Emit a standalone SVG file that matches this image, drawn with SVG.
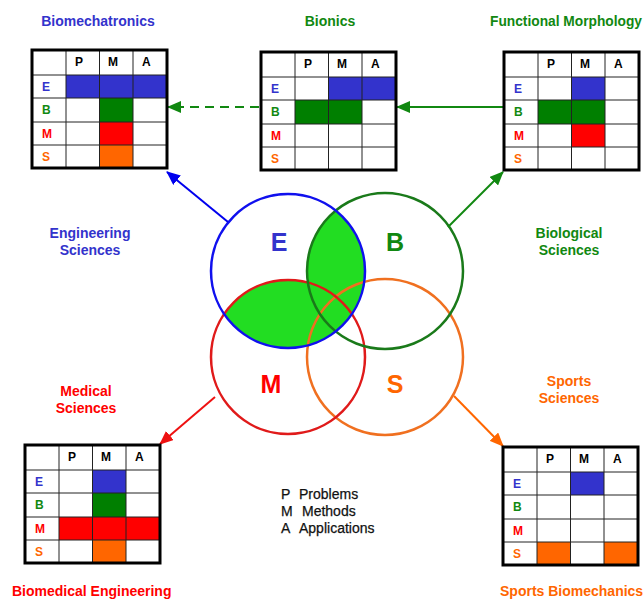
<svg xmlns="http://www.w3.org/2000/svg" width="644" height="599" viewBox="0 0 644 599">
<style>
  text { font-family: "Liberation Sans", Arial, sans-serif; font-weight: bold; }
  .title { font-size: 14px; }
  .side { font-size: 14px; text-anchor: middle; }
  .big { font-size: 25px; text-anchor: middle; }
  .legend { font-size: 14px; font-weight: normal; fill: #111; stroke: #111; stroke-width: 0.25; }
  .cell { font-size: 12px; }
  .hdr { fill: #000; }
  .blue { fill: #3333cc; }
  .green { fill: #118811; }
  .red { fill: #ff0000; }
  .orange { fill: #ff6600; }
  .fb { fill: #3333cc; }
  .fg { fill: #007f00; }
  .fr { fill: #ff0000; }
  .fo { fill: #ff6600; }
  .grid { stroke: #222; stroke-width: 1; fill: none; }
  .frame { stroke: #000; stroke-width: 3; fill: none; }
  .bg { fill: #fff; }
  .circ { fill: none; stroke-width: 2.5; }
  .conn { stroke-width: 2; fill: none; }
</style>
<defs>
  <marker id="ab" markerUnits="userSpaceOnUse" markerWidth="14" markerHeight="12" refX="13" refY="6" orient="auto"><path d="M0,0 L14,6 L0,12 z" fill="#0000ee"/></marker>
  <marker id="ag" markerUnits="userSpaceOnUse" markerWidth="14" markerHeight="12" refX="13" refY="6" orient="auto"><path d="M0,0 L14,6 L0,12 z" fill="#118811"/></marker>
  <marker id="ar" markerUnits="userSpaceOnUse" markerWidth="14" markerHeight="12" refX="13" refY="6" orient="auto"><path d="M0,0 L14,6 L0,12 z" fill="#ee1111"/></marker>
  <marker id="ao" markerUnits="userSpaceOnUse" markerWidth="14" markerHeight="12" refX="13" refY="6" orient="auto"><path d="M0,0 L14,6 L0,12 z" fill="#ff6600"/></marker>
  <clipPath id="clipE"><circle cx="288" cy="271" r="77"/></clipPath>
  <g id="gridlines">
    <rect class="bg" x="0" y="0" width="135" height="118"/>
  </g>
  <g id="gridover">
    <path class="grid" d="M34,0V118 M67.5,0V118 M101,0V118 M0,25H135 M0,48H135 M0,72H135 M0,95H135"/>
    <rect class="frame" x="0" y="0" width="135" height="118"/>
    <text class="cell hdr" x="43" y="16">P</text>
    <text class="cell hdr" x="76" y="16">M</text>
    <text class="cell hdr" x="110" y="16">A</text>
    <text class="cell blue" x="10" y="41">E</text>
    <text class="cell green" x="10" y="64">B</text>
    <text class="cell red" x="10" y="88">M</text>
    <text class="cell orange" x="10" y="111">S</text>
  </g>
</defs>

<!-- Titles -->
<text class="title blue" x="98" y="26" text-anchor="middle">Biomechatronics</text>
<text class="title green" x="330" y="26" text-anchor="middle">Bionics</text>
<text class="title green" x="490" y="26" textLength="152" lengthAdjust="spacingAndGlyphs">Functional Morphology</text>
<text class="title red" x="12" y="596">Biomedical Engineering</text>
<text class="title orange" x="500" y="596">Sports Biomechanics</text>

<!-- Side labels -->
<text class="side blue" x="90" y="238">Engineering</text>
<text class="side blue" x="90" y="255">Sciences</text>
<text class="side green" x="569" y="238">Biological</text>
<text class="side green" x="569" y="255">Sciences</text>
<text class="side red" x="86" y="396">Medical</text>
<text class="side red" x="86" y="413">Sciences</text>
<text class="side orange" x="569" y="386">Sports</text>
<text class="side orange" x="569" y="403">Sciences</text>

<!-- Venn diagram -->
<g id="venn">
  <g clip-path="url(#clipE)" fill="#22dd22">
    <circle cx="385" cy="271" r="78"/>
    <circle cx="288" cy="357" r="77"/>
  </g>
  <circle id="circleS" class="circ" cx="385" cy="357" r="78" stroke="#f07020"/>
  <circle id="circleM" class="circ" cx="288" cy="357" r="77" stroke="#e01a1a"/>
  <circle id="circleB" class="circ" cx="385" cy="271" r="78" stroke="#1a7a1a"/>
  <circle id="circleE" class="circ" cx="288" cy="271" r="77" stroke="#1010ee"/>
  <text class="big blue" x="279" y="251">E</text>
  <text class="big green" x="395" y="251">B</text>
  <text class="big red" x="271" y="393">M</text>
  <text class="big orange" x="395" y="393">S</text>
</g>

<!-- Legend -->
<g id="legend">
  <text class="legend" x="281" y="499">P</text><text class="legend" x="299" y="499">Problems</text>
  <text class="legend" x="281" y="516">M</text><text class="legend" x="302" y="516">Methods</text>
  <text class="legend" x="281" y="533">A</text><text class="legend" x="299" y="533">Applications</text>
</g>

<!-- Connectors -->
<g id="connectors">
  <line class="conn" x1="228" y1="222" x2="167" y2="172" stroke="#0000ee" marker-end="url(#ab)"/>
  <line class="conn" x1="448" y1="227" x2="503" y2="172" stroke="#118811" marker-end="url(#ag)"/>
  <line class="conn" x1="215" y1="397" x2="160" y2="444" stroke="#ee1111" marker-end="url(#ar)"/>
  <line class="conn" x1="454" y1="396" x2="503" y2="446" stroke="#ff6600" marker-end="url(#ao)"/>
  <line class="conn" x1="503" y1="107" x2="397" y2="107" stroke="#118811" marker-end="url(#ag)"/>
  <line class="conn" x1="259" y1="107" x2="168" y2="107" stroke="#118811" stroke-dasharray="9,6" marker-end="url(#ag)"/>
</g>

<!-- Tables -->
<g id="table-biomechatronics" transform="translate(32,50)">
  <use href="#gridlines"/>
  <rect class="fb" x="34" y="25" width="101" height="23"/>
  <rect class="fg" x="67.5" y="48" width="33.5" height="24"/>
  <rect class="fr" x="67.5" y="72" width="33.5" height="23"/>
  <rect class="fo" x="67.5" y="95" width="33.5" height="23"/>
  <use href="#gridover"/>
</g>

<g id="table-bionics" transform="translate(261,52)">
  <use href="#gridlines"/>
  <rect class="fb" x="67.5" y="25" width="67.5" height="23"/>
  <rect class="fg" x="34" y="48" width="67" height="24"/>
  <use href="#gridover"/>
</g>

<g id="table-functional-morphology" transform="translate(504,52)">
  <use href="#gridlines"/>
  <rect class="fb" x="67.5" y="25" width="33.5" height="23"/>
  <rect class="fg" x="34" y="48" width="67" height="24"/>
  <rect class="fr" x="67.5" y="72" width="33.5" height="23"/>
  <use href="#gridover"/>
</g>

<g id="table-biomedical-engineering" transform="translate(25,445)">
  <use href="#gridlines"/>
  <rect class="fb" x="67.5" y="25" width="33.5" height="23"/>
  <rect class="fg" x="67.5" y="48" width="33.5" height="24"/>
  <rect class="fr" x="34" y="72" width="101" height="23"/>
  <rect class="fo" x="67.5" y="95" width="33.5" height="23"/>
  <use href="#gridover"/>
</g>

<g id="table-sports-biomechanics" transform="translate(503,447)">
  <use href="#gridlines"/>
  <rect class="fb" x="67.5" y="25" width="33.5" height="23"/>
  <rect class="fo" x="34" y="95" width="33.5" height="23"/>
  <rect class="fo" x="101" y="95" width="34" height="23"/>
  <use href="#gridover"/>
</g>
</svg>
